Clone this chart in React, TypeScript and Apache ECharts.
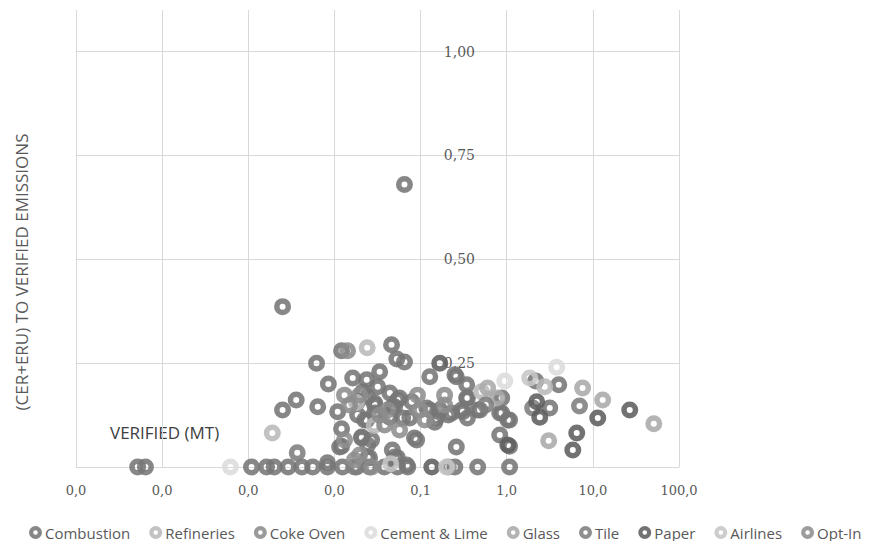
import React, { useEffect, useRef } from "react";
import * as echarts from "echarts";

const seriesNames = ["Combustion", "Refineries", "Coke Oven", "Cement & Lime", "Glass", "Tile", "Paper", "Airlines", "Opt-In"];
const seriesColors = ["#767676", "#b9b9b9", "#8c8c8c", "#dcdcdc", "#aaaaaa", "#7e7e7e", "#5e5e5e", "#c6c6c6", "#8e8e8e"];

const xTicks = [0.00001, 0.0001, 0.001, 0.01, 0.1, 1, 10, 100];
const yTicks = [0.25, 0.5, 0.75, 1.0];

const combustion = [
  [5.2e-5, 0], [6.4e-5, 0], [1.09e-3, 0], [1.63e-3, 0], [2.0e-3, 0], [2.9e-3, 0], [4.2e-3, 0], [5.6e-3, 0],
  [8.3e-3, 0], [0.0124, 0], [0.0181, 0], [0.0256, 0], [0.038, 0], [0.054, 0], [0.071, 0], [0.25, 0], [0.46, 0], [1.08, 0],
  [8.3e-3, 0.01], [2.5e-3, 0.137], [3.6e-3, 0.161], [6.4e-3, 0.145], [6.2e-3, 0.25], [8.5e-3, 0.2], [0.0121, 0.28],
  [0.0109, 0.133], [0.0121, 0.092], [0.0121, 0.05], [0.0163, 0.214], [0.0186, 0.125], [0.0207, 0.072], [0.0237, 0.21],
  [0.0243, 0.169], [0.0237, 0.113], [0.027, 0.065], [0.0243, 0.022], [0.046, 0.294], [0.053, 0.26], [0.065, 0.253],
  [0.128, 0.217], [0.0335, 0.229], [0.25, 0.222], [0.343, 0.198], [0.343, 0.166], [0.044, 0.178], [0.0293, 0.154],
  [0.054, 0.161], [0.079, 0.157], [0.128, 0.137], [0.05, 0.145], [0.075, 0.118], [0.154, 0.118], [0.21, 0.125],
  [0.3, 0.137], [0.46, 0.137], [0.35, 0.118], [0.875, 0.13], [1.03, 0.113], [0.085, 0.07], [0.26, 0.048], [0.83, 0.077],
  [0.054, 0.022], [0.047, 0.041], [0.875, 0.166], [1.08, 0.05], [2.17, 0.207], [4.02, 0.198], [3.16, 0.142],
  [0.065, 0.68], [2.5e-3, 0.386],
  [0.0213, 0.181], [0.0318, 0.193], [0.057, 0.166], [0.0186, 0.157], [0.0293, 0.149], [0.047, 0.145], [0.0293, 0.13],
  [0.0438, 0.12], [0.062, 0.118], [0.0224, 0.113], [0.118, 0.142], [0.167, 0.137], [0.23, 0.13], [0.31, 0.133],
  [0.49, 0.137], [0.35, 0.166], [0.26, 0.217], [0.146, 0.108], [0.83, 0.13], [1.08, 0.113], [0.0115, 0.048],
  [0.0207, 0.07], [0.0243, 0.053], [0.0256, 0.022], [0.05, 0.024], [0.09, 0.065], [0.069, 0.005],
];
const refineries = [[1.9e-3, 0.082], [0.024, 0.287], [0.51, 0.181], [2.76, 0.193], [0.029, 0.1], [0.018, 0.155]];
const cokeOven = [[0.0142, 0.28], [0.0131, 0.173], [0.015, 0.149], [0.0196, 0.173], [0.0335, 0.125], [0.0383, 0.101], [0.0415, 0.137], [0.027, 0], [0.21, 0]];
const cementLime = [[6.2e-4, 0], [0.95, 0.207], [3.8, 0.24]];
const glass = [[0.77, 0.166], [3.07, 0.063], [51, 0.104], [13, 0.161], [7.6, 0.19], [0.6, 0.19]];
const tile = [[2.0, 0.142], [7.0, 0.147], [3.7e-3, 0.034], [0.0171, 0], [0.57, 0.149]];
const paper = [[0.167, 0.25], [0.135, 0], [2.23, 0.157], [2.42, 0.12], [6.5, 0.082], [5.85, 0.041], [26.8, 0.137], [11.4, 0.118], [1.03, 0.053]];
const airlines = [[1.85, 0.214], [0.2, 0], [0.045, 0.008]];
const optIn = [[0.057, 0.089], [0.098, 0.137], [0.112, 0.113], [0.092, 0.173], [0.19, 0.173], [0.0131, 0.065], [0.0171, 0.017], [0.0196, 0.029], [0.19, 0.149]];

const seriesData = [combustion, refineries, cokeOven, cementLime, glass, tile, paper, airlines, optIn];

const RING = "path://M0,-8.5A8.5,8.5 0 1 1 0,8.5A8.5,8.5 0 1 1 0,-8.5ZM0,-3A3,3 0 1 0 0,3A3,3 0 1 0 0,-3Z";

export default function App() {
  const ref = useRef<HTMLDivElement>(null);
  useEffect(() => {
    if (!ref.current) return;
    const chart = echarts.init(ref.current, null, { renderer: "svg" });
    const fmt = (v: number) => {
      const r = Math.round(v * 10) / 10;
      return r.toFixed(1).replace(".", ",");
    };
    chart.setOption({
      animation: false,
      backgroundColor: "#ffffff",
      grid: { left: 76, right: 202, top: 10, bottom: 74, containLabel: false },
      xAxis: {
        type: "log",
        logBase: 10,
        min: xTicks[0],
        max: xTicks[xTicks.length - 1],
        splitNumber: 7,
        axisLine: { show: true, lineStyle: { color: "#d9d9d9", width: 1 } },
        axisTick: { show: false },
        axisLabel: {
          margin: 17,
          color: "#595959",
          fontFamily: "DejaVu Serif",
          fontSize: 13,
          formatter: (v: number) => fmt(v),
        },
        splitLine: { show: true, lineStyle: { color: "#d9d9d9", width: 1 } },
      },
      yAxis: {
        type: "value",
        min: 0,
        max: 1.1,
        interval: 0.25,
        offset: -407,
        axisLine: { show: false },
        axisTick: { show: false },
        axisLabel: {
          margin: 8,
          color: "#595959",
          fontFamily: "DejaVu Serif",
          fontSize: 14,
          formatter: (v: number) => (yTicks.some((t) => Math.abs(t - v) < 1e-6) ? v.toFixed(2).replace(".", ",") : ""),
        },
        splitLine: {
          show: true,
          lineStyle: { color: ["#d9d9d9", "#d9d9d9", "#d9d9d9", "#d9d9d9", "#d9d9d9", "rgba(0,0,0,0)"], width: 1 },
        },
      },
      legend: {
        show: true,
        left: 29,
        top: 525,
        padding: 0,
        itemWidth: 13,
        itemHeight: 13,
        itemGap: 19,
        icon: RING,
        textStyle: { color: "#595959", fontFamily: "Open Sans", fontSize: 15, padding: [0, 0, 0, -2] },
        data: seriesNames,
      },
      graphic: [
        {
          type: "text",
          left: 110,
          top: 424,
          style: { text: "VERIFIED (MT)", fill: "#404040", font: "17px 'Open Sans'" },
        },
        {
          type: "text",
          x: 21,
          y: 272,
          rotation: Math.PI / 2,
          style: {
            text: "(CER+ERU) TO VERIFIED EMISSIONS",
            fill: "#595959",
            font: "17px 'Open Sans'",
            align: "center",
            verticalAlign: "middle",
          },
        },
      ],
      series: seriesNames.map((name, i) => ({
        name,
        type: "scatter",
        symbol: RING,
        symbolSize: 17,
        data: seriesData[i],
        itemStyle: { color: seriesColors[i], opacity: 0.88 },
        z: 2 + (i === 0 ? 0 : 1),
      })),
    });
    return () => chart.dispose();
  }, []);
  return <div ref={ref} style={{ position: "fixed", left: 0, top: 0, width: 881, height: 541 }} />;
}
